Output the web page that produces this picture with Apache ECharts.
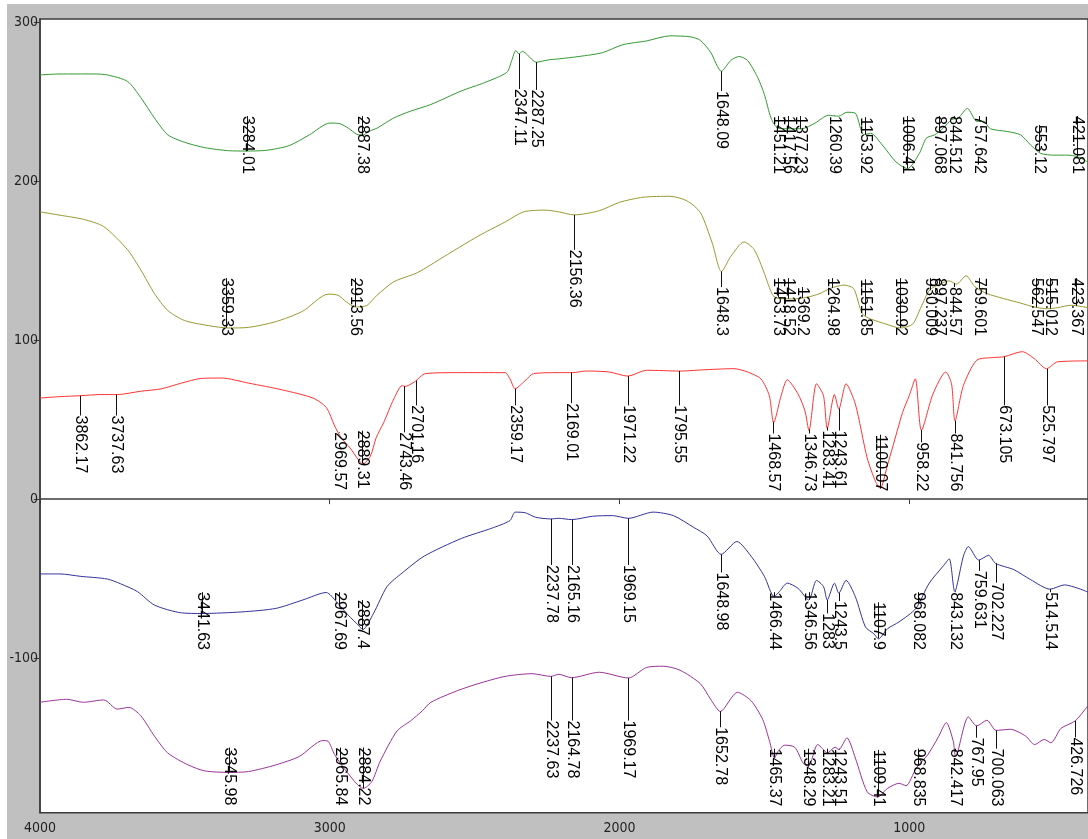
<!DOCTYPE html>
<html><head><meta charset="utf-8">
<script src="https://cdn.jsdelivr.net/npm/echarts@6/dist/echarts.min.js"></script>
<style>html,body{margin:0;padding:0;background:#fff}#c{width:1088px;height:839px}</style>
</head><body><div id="c"></div>
<script>
// ---- axis ticks ----
const xTicks = [4000, 3000, 2000, 1000];
const yTicks = [300, 200, 100, 0, -100];

// ---- spectra: [wavenumber, value] ----
const green = [[4000,267],[3931,267.6],[3815,267.6],[3768,267],[3698,262.9],[3652,252.7],[3605,239.9],[3559,229.3],[3501,224.6],[3431,221.2],[3349,219.3],[3289,219.1],[3221,219.5],[3140,222.5],[3070,229.3],[3000,236.7],[2965,236.3],[2936,233.5],[2907,229.7],[2886,229],[2866,231.4],[2837,233.5],[2779,239.9],[2721,244.2],[2651,248.4],[2546,256.9],[2465,262.2],[2389,268.6],[2372,276],[2358,282.4],[2347,280.3],[2335,281.8],[2287,275],[2244,276.5],[2210,277.1],[2140,278.6],[2059,281],[1989,286],[1907,288.4],[1826,291.6],[1756,291],[1721,288.8],[1686,281.4],[1648,269.3],[1616,276.1],[1587,278.6],[1558,276.1],[1523,265.4],[1500,254.8],[1477,239.9],[1453,233.5],[1407,233.1],[1372,233.1],[1325,236.7],[1279,241.6],[1244,241],[1215,243.5],[1186,242.9],[1157,229.3],[1133,230.3],[1093,222.9],[1046,212.3],[1006,208],[965,217.6],[941,227.2],[912,229.3],[883,233.5],[854,238.9],[831,239.9],[799,245.9],[767,237.8],[743,237.8],[720,233.1],[662,231.4],[616,229.3],[581,222.9],[546,217.6],[499,216.5],[453,216.5],[418,215.5],[383,212]];
const olive = [[4000,180.8],[3931,178.7],[3850,176.1],[3780,171.5],[3698,157],[3652,144.2],[3605,129.4],[3559,118.7],[3501,112.4],[3419,109.2],[3349,107.7],[3280,108.1],[3186,111.7],[3093,118.3],[3006,129],[2971,128.3],[2942,124],[2912,120.9],[2872,121.9],[2837,128.3],[2779,136.8],[2698,142.5],[2605,152.7],[2488,165.5],[2395,174.4],[2331,180.8],[2256,181.9],[2210,180.8],[2156,178.9],[2070,181.5],[2000,186.8],[1919,190],[1826,190.6],[1768,187.8],[1721,180.4],[1680,161.2],[1648,143.2],[1616,152.7],[1570,161.9],[1535,157],[1500,142.1],[1471,128.3],[1448,126.2],[1395,126],[1349,127.2],[1308,129.4],[1273,132.6],[1226,134.7],[1192,132.6],[1162,116.6],[1133,113.4],[1081,110.2],[1030,107.7],[988,110.2],[959,120.9],[930,131.5],[895,135.3],[862,137.4],[837,135.3],[804,140.6],[773,133.6],[732,129.4],[674,126.2],[616,123.4],[569,120.9],[522,119.8],[488,120.5],[441,122],[383,120.5]];
const red = [[4000,63.6],[3931,64.5],[3859,65.1],[3792,65.8],[3733,65.8],[3652,67.9],[3582,69.4],[3512,73],[3442,76],[3373,76.2],[3280,73],[3163,68.7],[3058,63.6],[3012,57.7],[2983,46],[2960,38.5],[2930,32.2],[2901,24.7],[2886,22],[2860,26.9],[2840,38.5],[2814,48.1],[2779,63],[2750,71.5],[2740,70.9],[2709,73.6],[2669,79],[2558,79.6],[2395,79.6],[2378,75.7],[2360,69.4],[2331,73.6],[2296,79],[2210,79.6],[2163,79.6],[2117,80.6],[2035,80],[1971,77.4],[1907,81.1],[1791,80.6],[1698,81.5],[1605,82.1],[1558,80],[1512,75.7],[1483,65.1],[1468,48.1],[1442,65.1],[1421,75.1],[1384,66.2],[1360,55.6],[1346,43.2],[1320,72.6],[1296,65.1],[1283,44.5],[1258,65.8],[1243,56.6],[1218,72.6],[1186,59.8],[1145,25.8],[1116,10.9],[1100,6.7],[1075,21.5],[1058,32.2],[1023,54.5],[1000,65.1],[979,75.7],[958,43.2],[918,66.2],[874,80],[854,72.6],[842,49.2],[813,71.5],[767,87.4],[709,89.1],[673,89.6],[610,92.8],[569,88.5],[526,82.1],[488,86.4],[383,87]];
const blue = [[4000,-47.1],[3931,-47.1],[3861,-48.6],[3768,-50.3],[3722,-53.3],[3664,-58.2],[3605,-66.7],[3512,-71.6],[3441,-72],[3303,-71],[3186,-68.8],[3093,-63.5],[3012,-58.8],[2977,-64.6],[2936,-73.1],[2901,-79.4],[2886,-82.2],[2849,-72],[2802,-55],[2750,-46.5],[2674,-35.9],[2546,-24.8],[2442,-18.4],[2378,-13.5],[2360,-8.2],[2325,-8.6],[2290,-11.4],[2237,-12.5],[2210,-12.1],[2165,-12.9],[2093,-10.8],[2024,-10.4],[1969,-12.1],[1884,-8.2],[1814,-10.4],[1744,-17.8],[1698,-23.1],[1649,-34.8],[1595,-26.7],[1546,-35.9],[1500,-48.6],[1466,-61.4],[1448,-58.2],[1421,-52.9],[1384,-56.1],[1347,-63.5],[1320,-51.2],[1296,-55],[1283,-63.5],[1258,-52.9],[1243,-59.2],[1218,-51.2],[1186,-61.4],[1151,-80.5],[1122,-84.8],[1106,-88],[1075,-81.6],[1035,-77.3],[977,-68.8],[931,-52.9],[883,-42.2],[862,-37.6],[843,-58.2],[813,-35.9],[796,-29.9],[760,-38.4],[726,-35.4],[702,-40.5],[639,-44.4],[581,-50.7],[514,-56.7],[464,-54],[418,-56.1],[383,-58.5]];
const purple = [[4000,-127.9],[3908,-126],[3850,-127.9],[3780,-126.4],[3733,-132.2],[3693,-131.1],[3652,-136.4],[3605,-149.2],[3559,-159.8],[3489,-167.3],[3431,-171.1],[3349,-172],[3280,-171.5],[3186,-167.3],[3105,-162],[3024,-152],[3006,-152.4],[2983,-160.9],[2942,-171.5],[2884,-182.1],[2855,-177.9],[2826,-165.1],[2768,-146],[2721,-139.6],[2680,-133.2],[2651,-127.9],[2558,-120.5],[2488,-116.2],[2395,-111.6],[2302,-109.9],[2237,-111.6],[2210,-110.3],[2165,-112.4],[2070,-109],[1969,-112.6],[1907,-106],[1849,-105.2],[1791,-107.7],[1721,-116.2],[1686,-125.8],[1652,-133.7],[1593,-121.6],[1546,-126.9],[1506,-138.6],[1482,-152.4],[1465,-163],[1453,-158.8],[1430,-154.9],[1395,-156.2],[1366,-166.2],[1348,-168.3],[1316,-154.5],[1290,-158.8],[1283,-159.8],[1256,-156.2],[1243,-157.7],[1215,-150.3],[1186,-163],[1145,-184.3],[1109,-187.5],[1075,-182.1],[1035,-178.9],[1011,-180.4],[976,-169.4],[936,-160.9],[901,-150.3],[872,-140.7],[848,-152.4],[840,-161.9],[796,-137.1],[767,-142.8],[732,-139.2],[700,-145.6],[651,-144.9],[598,-149.2],[567,-154.5],[534,-151.3],[511,-153.4],[476,-144.3],[427,-139.6],[383,-130]];

// ---- peak annotations (text as printed) and the level where each label ends ----
const greenPeaks = ['3284.01','2887.38','2347.11','2287.25','1648.09','1451.21','1417.56','1377.23','1260.39','1153.92','1006.41','897.068','844.512','757.642','553.12','421.081'];
const greenLabelEnd = [204.7,204.7,222.5,221.2,220.4,204.7,204.7,204.7,204.7,204.7,204.7,204.7,204.7,204.7,204.7,204.7];
const olivePeaks = ['3359.33','2913.56','2156.36','1648.3','1453.73','1418.52','1369.2','1264.98','1151.85','1030.92','930.009','897.237','844.57','759.601','562.547','515.012','423.367'];
const oliveLabelEnd = [102.7,102.7,120.5,102.7,102.7,102.7,102.7,102.7,102.7,102.7,102.7,102.7,102.7,102.7,102.7,102.7,102.7];
const redPeaks = ['3862.17','3737.63','2969.57','2889.31','2743.46','2701.16','2359.17','2169.01','1971.22','1795.55','1468.57','1346.73','1283.41','1243.61','1100.07','958.22','841.756','673.105','525.797'];
const redLabelEnd = [16.2,16.2,5.6,6.7,5.6,22.6,22.6,24,22.6,22.6,4.9,4.9,6.7,6.7,4.9,4.9,4.9,22.6,22.6];
const bluePeaks = ['3441.63','2967.69','2887.4','2237.78','2165.16','1969.15','1648.98','1466.44','1346.56','1283','1243.5','1107.9','968.082','843.132','759.631','702.227','514.514'];
const blueLabelEnd = [-95,-95,-94.3,-77.9,-77.9,-77.9,-82.6,-95,-95,-94.3,-95,-95,-95,-95,-81.6,-89,-95];
const purplePeaks = ['3345.98','2965.84','2884.22','2237.63','2164.78','1969.17','1652.78','1465.37','1348.29','1283.21','1243.51','1109.41','968.835','842.417','767.95','700.063','426.726'];
const purpleLabelEnd = [-192.8,-192.8,-192.8,-175.8,-175.8,-175.8,-180,-193.5,-193.5,-193.5,-193.5,-193.5,-193.5,-193.5,-181,-193.5,-186.4];

const spectra = [
  {data: green, peaks: greenPeaks, ends: greenLabelEnd, color: '#339933'},
  {data: olive, peaks: olivePeaks, ends: oliveLabelEnd, color: '#999933'},
  {data: red, peaks: redPeaks, ends: redLabelEnd, color: '#ff3333'},
  {data: blue, peaks: bluePeaks, ends: blueLabelEnd, color: '#333399'},
  {data: purple, peaks: purplePeaks, ends: purpleLabelEnd, color: '#993399'}
];

const LABEL_FONT = '16px "Liberation Sans", Arial, sans-serif';
const AXIS_FONT = '"Liberation Sans Narrow", "DejaVu Sans Condensed", "Liberation Sans", sans-serif';
const mctx = document.createElement('canvas').getContext('2d');
mctx.font = LABEL_FONT;
function textLen(t) { return mctx.measureText(t).width; }
function interp(arr, x) {
  for (let i = 0; i < arr.length - 1; i++) {
    const a = arr[i], b = arr[i + 1];
    if (x <= a[0] && x >= b[0]) {
      const t = (a[0] - x) / (a[0] - b[0] || 1);
      return a[1] + (b[1] - a[1]) * t;
    }
  }
  return arr[arr.length - 1][1];
}

const series = [];
spectra.forEach(s => {
  series.push({
    type: 'line', data: s.data, showSymbol: false, smooth: 0.25,
    lineStyle: {color: s.color, width: 1}, silent: true, animation: false, z: 2
  });
  const ann = s.peaks.map((p, i) => {
    const wn = parseFloat(p);
    return [wn, interp(s.data, wn), s.ends[i], p];
  });
  series.push({
    type: 'custom', data: ann, animation: false, silent: true, z: 3,
    renderItem: function (params, api) {
      const d = ann[params.dataIndex];
      const p = api.coord([d[0], d[1]]);
      const e = api.coord([d[0], d[2]]);
      const x = Math.round(p[0]) + 0.5;
      const topY = e[1] - textLen(d[3]);
      return {
        type: 'group', children: [
          {type: 'line', shape: {x1: x, y1: p[1], x2: x, y2: topY}, style: {stroke: '#111', lineWidth: 1}},
          {type: 'text', x: x, y: e[1], rotation: -Math.PI / 2,
           style: {text: d[3], font: LABEL_FONT, fill: '#000', align: 'right', verticalAlign: 'middle'}}
        ]
      };
    }
  });
});

const chart = echarts.init(document.getElementById('c'), null, {renderer: 'canvas'});
chart.setOption({
  backgroundColor: '#c0c0c0',
  animation: false,
  graphic: [
    {type: 'rect', shape: {x: 0, y: 0, width: 1088, height: 4}, style: {fill: '#fff'}, silent: true},
    {type: 'rect', shape: {x: 0, y: 0, width: 7, height: 839}, style: {fill: '#fff'}, silent: true}
  ],
  grid: {left: 40, top: 19, right: -2, bottom: 26.3, show: true, backgroundColor: '#fff', borderColor: '#3c3c3c', borderWidth: 1.5},
  xAxis: {
    type: 'value', inverse: true, min: 383, max: 4000,
    splitLine: {show: false},
    axisLine: {lineStyle: {color: '#3c3c3c', width: 1.5}},
    axisTick: {customValues: xTicks, length: 5, lineStyle: {color: '#3c3c3c'}},
    axisLabel: {customValues: xTicks, color: '#222', fontSize: 14, margin: 9, fontFamily: AXIS_FONT,
      formatter: v => String(v)}
  },
  yAxis: {
    type: 'value', min: -197.4, max: 302.2,
    splitLine: {show: false},
    axisLine: {show: true, lineStyle: {color: '#3c3c3c', width: 1.5}},
    axisTick: {show: true, customValues: yTicks, length: 6, lineStyle: {color: '#3c3c3c'}},
    axisLabel: {customValues: yTicks, color: '#222', fontSize: 14, margin: 2, fontFamily: AXIS_FONT,
      formatter: v => String(v)}
  },
  series: series
});
</script></body></html>
